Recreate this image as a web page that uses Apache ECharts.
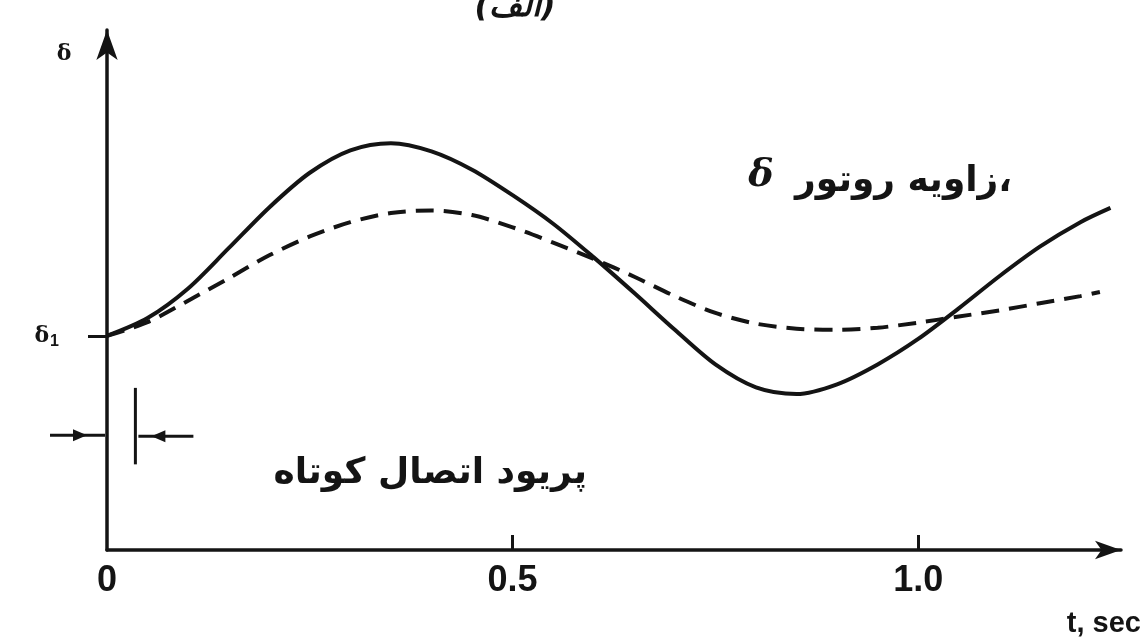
<!DOCTYPE html>
<html>
<head>
<meta charset="utf-8">
<script src="https://cdn.jsdelivr.net/npm/echarts@6/dist/echarts.min.js"></script>
<style>
  html, body { margin: 0; padding: 0; background: #ffffff; }
  #chart { width: 1145px; height: 644px; }
</style>
</head>
<body>
<div id="chart"></div>
<script>
// Rotor angle swing after a short-circuit (time in seconds, angle in arbitrary units)
const tSolid = [0, 0.05, 0.10, 0.15, 0.20, 0.25, 0.30, 0.35, 0.40, 0.45, 0.50, 0.55, 0.60, 0.65, 0.70, 0.75, 0.80, 0.85, 0.90, 0.95, 1.00, 1.05, 1.10, 1.15, 1.20, 1.237];
const deltaSolid = [42, 45.5, 51.3, 59.2, 67.2, 74.0, 78.4, 79.8, 78.2, 74.6, 69.6, 64.0, 57.4, 50.4, 43.2, 36.4, 31.9, 30.6, 32.5, 36.4, 41.4, 47.4, 53.7, 59.5, 64.3, 67.1];

const tDashed = [0, 0.05, 0.10, 0.15, 0.20, 0.25, 0.30, 0.35, 0.40, 0.45, 0.50, 0.55, 0.60, 0.65, 0.70, 0.75, 0.80, 0.85, 0.90, 0.95, 1.00, 1.05, 1.10, 1.15, 1.20, 1.224];
const deltaDashed = [42, 44.7, 48.9, 53.3, 57.8, 61.5, 64.3, 66.1, 66.6, 65.7, 63.3, 60.3, 57.1, 53.6, 49.8, 46.5, 44.4, 43.4, 43.2, 43.6, 44.6, 45.8, 47.0, 48.4, 49.8, 50.6];

// Axis ticks and labels
const xTickValues = [0.5, 1.0];
const xLabelValues = [0, 0.5, 1.0];
const delta1 = 42;

// Fault (short-circuit) period marker
const faultStart = 0;
const faultEnd = 0.035;
const faultMarkLow = 16.8;
const faultMarkHigh = 31.8;
const faultArrowLevel = 22.5;

const zip = (xs, ys) => xs.map((x, i) => [x, ys[i]]);
const ink = '#141414';
const narrow = '"Liberation Sans Narrow", "Liberation Sans", Arial, sans-serif';

const chart = echarts.init(document.getElementById('chart'), null, { renderer: 'canvas' });

chart.setOption({
  animation: false,
  backgroundColor: '#ffffff',
  grid: { left: 107, right: 24, top: 30, bottom: 94, containLabel: false },
  xAxis: {
    type: 'value',
    min: 0,
    max: 1.25,
    interval: 0.5,
    splitLine: { show: false },
    axisLine: {
      onZero: false,
      lineStyle: { color: ink, width: 3.5 },
      symbol: ['none', 'arrow'],
      symbolSize: [14, 26]
    },
    axisTick: {
      customValues: xTickValues,
      inside: true,
      length: 15,
      lineStyle: { color: ink, width: 3 }
    },
    axisLabel: {
      customValues: xLabelValues,
      formatter: v => (v === 0 ? '0' : v.toFixed(1)),
      margin: 13,
      color: ink,
      fontFamily: narrow,
      fontWeight: 'bold',
      fontSize: 36
    }
  },
  yAxis: {
    type: 'value',
    min: 0,
    max: 102,
    splitLine: { show: false },
    axisLine: {
      onZero: false,
      lineStyle: { color: ink, width: 3.5 },
      symbol: ['none', 'arrow'],
      symbolSize: [16, 30]
    },
    axisTick: {
      customValues: [delta1],
      length: 19,
      lineStyle: { color: ink, width: 3 }
    },
    axisLabel: {
      customValues: [delta1],
      margin: 48,
      formatter: () => '{d|δ}{s|1}',
      rich: {
        d: { fontFamily: 'DejaVu Serif', fontWeight: 'bold', fontSize: 22, color: ink },
        s: { fontFamily: 'Liberation Sans', fontWeight: 'bold', fontSize: 16, color: ink, padding: [12, 0, 0, 1] }
      }
    }
  },
  series: [
    {
      type: 'line',
      data: zip(tSolid, deltaSolid),
      smooth: 0.3,
      showSymbol: false,
      lineStyle: { color: ink, width: 4 }
    },
    {
      type: 'line',
      data: zip(tDashed, deltaDashed),
      smooth: 0.3,
      showSymbol: false,
      lineStyle: { color: ink, width: 4, type: [18, 10] }
    }
  ]
});

// Annotations: labels, title and the fault-period marker
const p0 = chart.convertToPixel({ gridIndex: 0 }, [faultStart, faultArrowLevel]);
const p1 = chart.convertToPixel({ gridIndex: 0 }, [faultEnd, faultArrowLevel]);
const pLow = chart.convertToPixel({ gridIndex: 0 }, [faultEnd, faultMarkLow]);
const pHigh = chart.convertToPixel({ gridIndex: 0 }, [faultEnd, faultMarkHigh]);

const stroke = { stroke: ink, lineWidth: 3 };
const ay = p0[1];
const by = p1[1] + 1;

chart.setOption({
  graphic: [
    {
      type: 'text', x: 515, y: -8,
      style: { text: '(الف)', font: 'bold italic 32px "DejaVu Sans"', fill: ink, textAlign: 'center' }
    },
    {
      type: 'text', x: 64, y: 54,
      style: { text: 'δ', font: 'bold 22px "DejaVu Serif"', fill: ink, textAlign: 'center', textVerticalAlign: 'middle' }
    },
    {
      type: 'text', x: 761, y: 176,
      style: { text: 'δ', font: 'bold italic 38px "DejaVu Serif"', fill: ink, textAlign: 'center', textVerticalAlign: 'middle' }
    },
    {
      type: 'text', x: 1012, y: 182,
      style: { text: 'زاویه روتور،', font: 'bold 36px "DejaVu Sans"', fill: ink, textAlign: 'right', textVerticalAlign: 'middle' }
    },
    {
      type: 'text', x: 587, y: 474,
      style: { text: 'پریود اتصال کوتاه', font: 'bold 36px "DejaVu Sans"', fill: ink, textAlign: 'right', textVerticalAlign: 'middle' }
    },
    {
      type: 'text', x: 1141, y: 624,
      style: { text: 't, sec', font: 'bold 29px ' + narrow, fill: ink, textAlign: 'right', textVerticalAlign: 'middle' }
    },
    // fault clearing mark
    { type: 'line', shape: { x1: pLow[0], y1: pLow[1], x2: pHigh[0], y2: pHigh[1] }, style: stroke },
    // arrow pointing at fault start
    { type: 'line', shape: { x1: p0[0] - 57, y1: ay, x2: p0[0] - 2, y2: ay }, style: stroke },
    { type: 'polygon', shape: { points: [[p0[0] - 34, ay - 6], [p0[0] - 20, ay], [p0[0] - 34, ay + 6]] }, style: { fill: ink } },
    // arrow pointing at fault end
    { type: 'line', shape: { x1: p1[0] + 3, y1: by, x2: p1[0] + 58, y2: by }, style: stroke },
    { type: 'polygon', shape: { points: [[p1[0] + 30, by - 6], [p1[0] + 16, by], [p1[0] + 30, by + 6]] }, style: { fill: ink } }
  ]
});
</script>
</body>
</html>
